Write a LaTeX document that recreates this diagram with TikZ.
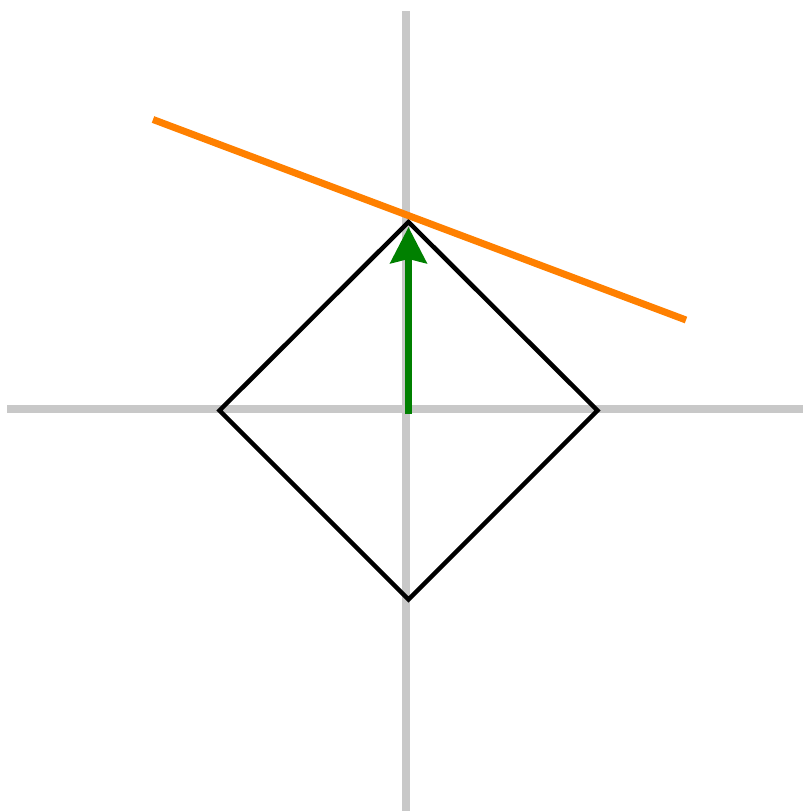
\documentclass[tikz,border=0pt]{standalone}
\usetikzlibrary{arrows.meta}
\definecolor{axisgray}{RGB}{200,200,200}
\definecolor{lineorange}{RGB}{255,128,0}
\definecolor{arrowgreen}{RGB}{0,128,0}
\tikzset{
  axisline/.style={draw=axisgray, line width=8pt},
  diamondline/.style={draw=black, line width=4.5pt, line join=miter},
  tangentline/.style={draw=lineorange, line width=7pt},
  normalarrow/.style={draw=arrowgreen, fill=arrowgreen, line width=7.5pt,
    -{Stealth[length=36pt,width=36pt,inset=4pt]}},
}
\begin{document}
\begin{tikzpicture}[x=1pt,y=-1pt]
\useasboundingbox (0,0) rectangle (803,811);
% axes
\coordinate (xl) at (7,408.5);
\coordinate (xr) at (803,408.5);
\coordinate (yt) at (406,11);
\coordinate (yb) at (406,811);
\draw[axisline] (xl) -- (xr);
\draw[axisline] (yt) -- (yb);
% diamond
\coordinate (dt) at (408.5,222);
\coordinate (dr) at (597.5,410.5);
\coordinate (db) at (408.5,599.5);
\coordinate (dl) at (219.5,410.5);
\draw[diamondline] (dt) -- (dr) -- (db) -- (dl) -- cycle;
% orange line
\coordinate (ol) at (153,119.5);
\coordinate (or) at (686,320);
\draw[tangentline] (ol) -- (or);
% green arrow
\coordinate (gs) at (408.5,414);
\coordinate (ge) at (408.5,227);
\draw[normalarrow] (gs) -- (ge);
\end{tikzpicture}
\end{document}
